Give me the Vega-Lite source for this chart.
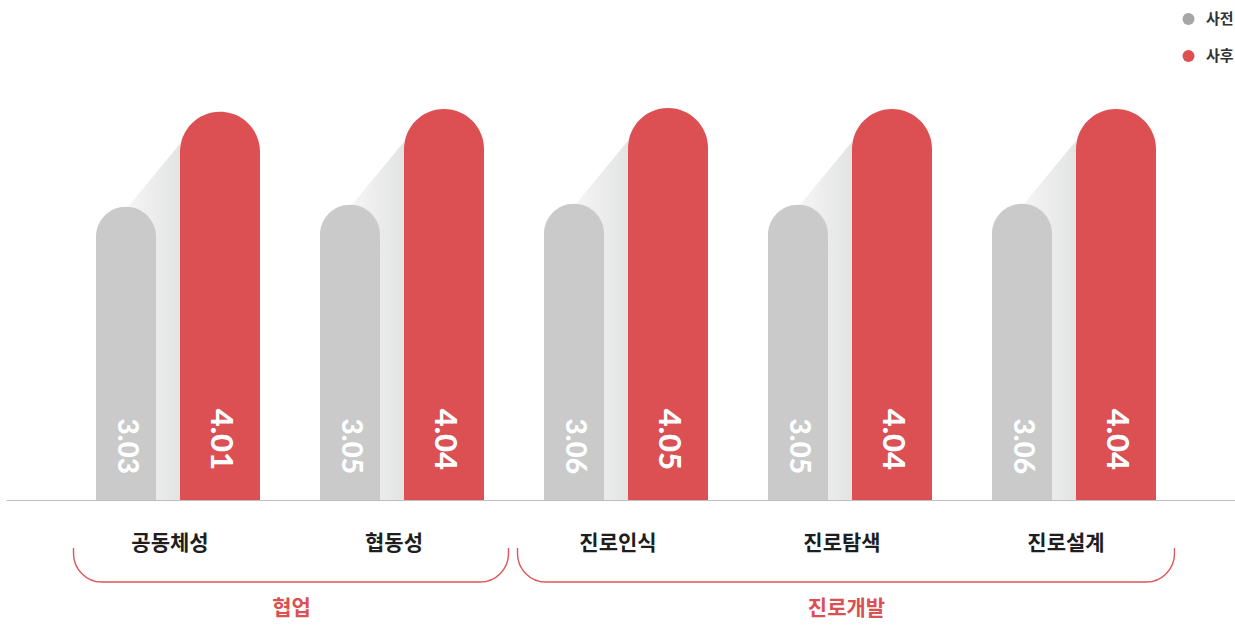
{
  "$schema": "https://vega.github.io/schema/vega-lite/v6.json",
  "background": "white",
  "padding": {"left": 6, "right": 0, "top": 0, "bottom": 0},
  "spacing": 48,
  "bounds": "flush",
  "center": true,
  "config": {"view": {"stroke": null}, "axis": {"grid": false}, "font": "Noto Sans CJK KR"},
  "vconcat": [
    {
      "width": 1229,
      "height": 500,
      "data": {"values": [
        {"category": "공동체성", "series": "사전", "value": 3.03},
        {"category": "공동체성", "series": "사후", "value": 4.01},
        {"category": "협동성", "series": "사전", "value": 3.05},
        {"category": "협동성", "series": "사후", "value": 4.04},
        {"category": "진로인식", "series": "사전", "value": 3.06},
        {"category": "진로인식", "series": "사후", "value": 4.05},
        {"category": "진로탐색", "series": "사전", "value": 3.05},
        {"category": "진로탐색", "series": "사후", "value": 4.04},
        {"category": "진로설계", "series": "사전", "value": 3.06},
        {"category": "진로설계", "series": "사후", "value": 4.04}
      ]},
      "encoding": {
        "x": {
          "field": "category", "type": "nominal", "sort": null,
          "scale": {"paddingInner": 0, "paddingOuter": 0.2433, "align": 0.477},
          "axis": {
            "title": null, "ticks": false, "tickSize": 0,
            "domainColor": "#bdbdbd", "domainWidth": 1,
            "labelAngle": 0, "labelFont": "Noto Sans CJK KR", "labelFontSize": 21,
            "labelFontWeight": "bold", "labelColor": "#1e1e1e",
            "labelPadding": 32, "labelBaseline": "top"
          }
        }
      },
      "layer": [
        {
          "transform": [{"filter": "datum.series === '사전'"}],
          "mark": {
            "type": "bar", "width": 52, "xOffset": -16,
            "fill": {"gradient": "linear", "x1": 0, "y1": 0, "x2": 1, "y2": 0,
              "stops": [{"offset": 0, "color": "#f5f5f5"}, {"offset": 1, "color": "#e2e3e3"}]}
          },
          "encoding": {
            "y": {"field": "value", "type": "quantitative", "stack": null,
              "scale": {"domain": [0, 5.165], "nice": false, "zero": true}, "axis": null}
          }
        },
        {
          "transform": [{"filter": "datum.series === '사전'"}],
          "mark": {
            "type": "point", "shape": "M-26,1L-26,0L26,-63L26,1Z", "size": 4,
            "filled": true, "opacity": 1, "strokeWidth": 0, "xOffset": -16,
            "fill": {"gradient": "linear", "x1": 0, "y1": 0, "x2": 1, "y2": 0,
              "stops": [{"offset": 0, "color": "#f5f5f5"}, {"offset": 1, "color": "#e2e3e3"}]}
          },
          "encoding": {
            "y": {"field": "value", "type": "quantitative"}
          }
        },
        {
          "transform": [{"filter": "datum.series === '사전'"}],
          "mark": {"type": "bar", "width": 60, "xOffset": -44, "color": "#c9cac9",
            "cornerRadiusTopLeft": 30, "cornerRadiusTopRight": 30},
          "encoding": {
            "y": {"field": "value", "type": "quantitative", "stack": null}
          }
        },
        {
          "transform": [{"filter": "datum.series === '사후'"}],
          "mark": {"type": "bar", "width": 80, "xOffset": 50, "color": "#dc4f52",
            "cornerRadiusTopLeft": 40, "cornerRadiusTopRight": 40},
          "encoding": {
            "y": {"field": "value", "type": "quantitative", "stack": null}
          }
        },
        {
          "mark": {"type": "point", "filled": true, "opacity": 0, "size": 1},
          "encoding": {
            "y": {"field": "value", "type": "quantitative"},
            "color": {
              "field": "series", "type": "nominal",
              "scale": {"domain": ["사전", "사후"], "range": ["#a6a6a6", "#dc4f52"]},
              "legend": {
                "title": null, "orient": "none", "legendX": 1175, "legendY": 11.5,
                "symbolType": "circle", "symbolSize": 144, "symbolStrokeWidth": 0, "symbolOpacity": 1,
                "labelFont": "Noto Sans CJK KR", "labelFontSize": 15, "labelFontWeight": "bold",
                "labelColor": "#333333", "labelOffset": 10, "rowPadding": 21, "padding": 0
              }
            }
          }
        },
        {
          "transform": [{"filter": "datum.series === '사전'"}],
          "mark": {"type": "text", "angle": 90, "align": "right", "baseline": "middle",
            "dx": -26, "xOffset": -44, "font": "Lato", "fontSize": 28, "fontWeight": 900, "color": "#ffffff"},
          "encoding": {
            "y": {"datum": 0, "type": "quantitative"},
            "text": {"field": "value", "type": "quantitative", "format": ".2f"}
          }
        },
        {
          "transform": [{"filter": "datum.series === '사후'"}],
          "mark": {"type": "text", "angle": 90, "align": "right", "baseline": "middle",
            "dx": -30, "xOffset": 50, "font": "Lato", "fontSize": 31, "fontWeight": 900, "color": "#ffffff"},
          "encoding": {
            "y": {"datum": 0, "type": "quantitative"},
            "text": {"field": "value", "type": "quantitative", "format": ".2f"}
          }
        }
      ]
    },
    {
      "width": 1110,
      "height": 77,
      "data": {"values": [
        {"group": "협업", "from": 0, "to": 2},
        {"group": "진로개발", "from": 2, "to": 5}
      ]},
      "layer": [
        {
          "mark": {"type": "rect", "clip": true, "fill": "transparent", "stroke": "#e05558",
            "strokeWidth": 1.4, "cornerRadiusBottomLeft": 32, "cornerRadiusBottomRight": 32,
            "xOffset": 8, "x2Offset": -1},
          "encoding": {
            "x": {"field": "from", "type": "quantitative",
              "scale": {"domain": [0, 5], "nice": false, "zero": false}, "axis": null},
            "x2": {"field": "to"},
            "y": {"datum": 100, "type": "quantitative",
              "scale": {"domain": [0, 77], "nice": false, "zero": false}, "axis": null},
            "y2": {"datum": 43}
          }
        },
        {
          "transform": [{"fold": ["from", "to"], "as": ["edge", "pos"]}],
          "mark": {"type": "text", "font": "Noto Sans CJK KR", "fontSize": 21, "fontWeight": "bold",
            "color": "#dc4f52", "baseline": "middle", "align": "center", "xOffset": 4},
          "encoding": {
            "x": {"field": "pos", "type": "quantitative", "aggregate": "mean"},
            "y": {"datum": 16, "type": "quantitative"},
            "text": {"field": "group", "type": "nominal"}
          }
        }
      ]
    }
  ]
}
